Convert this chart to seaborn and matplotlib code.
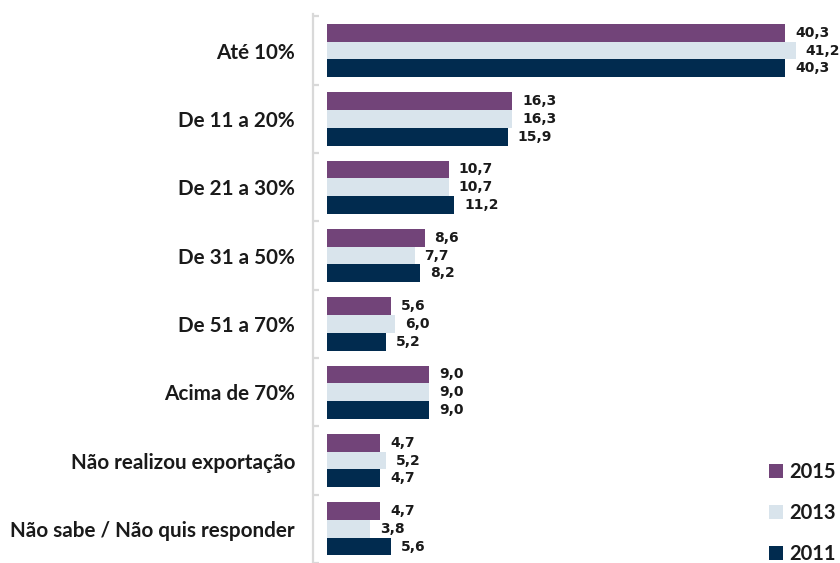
import pandas as pd
import matplotlib
matplotlib.use("Agg")
import matplotlib.pyplot as plt
import seaborn as sns

# dados do grafico
categorias = ["Até 10%", "De 11 a 20%", "De 21 a 30%", "De 31 a 50%",
              "De 51 a 70%", "Acima de 70%", "Não realizou exportação",
              "Não sabe / Não quis responder"]
anos = ["2015", "2013", "2011"]
v2015 = [40.3, 16.3, 10.7, 8.6, 5.6, 9.0, 4.7, 4.7]
v2013 = [41.2, 16.3, 10.7, 7.7, 6.0, 9.0, 5.2, 3.8]
v2011 = [40.3, 15.9, 11.2, 8.2, 5.2, 9.0, 4.7, 5.6]
cores = ["#724479", "#d9e4ec", "#012b4f"]

df = pd.DataFrame({
    "categoria": categorias * 3,
    "ano": [a for a in anos for _ in categorias],
    "valor": v2015 + v2013 + v2011,
})

sns.set_style("white")
plt.rcParams["font.family"] = ["Lato", "DejaVu Sans"]
plt.rcParams["text.color"] = "#1a1a1a"
plt.rcParams["ytick.color"] = "#1a1a1a"

fig = plt.figure(figsize=(8.4, 5.63), dpi=100)
ax = fig.add_axes([327 / 840, 0.0, 1 - 327 / 840, 548.6 / 563])

sns.barplot(data=df, y="categoria", x="valor", hue="ano", hue_order=anos,
            order=categorias, palette=cores, saturation=1, width=0.78,
            linewidth=0, orient="h", ax=ax)

# rotulos de valor com virgula decimal
for cont, vals in zip(ax.containers, [v2015, v2013, v2011]):
    ax.bar_label(cont, labels=[f"{v:.1f}".replace(".", ",") for v in vals],
                 padding=7, fontsize=10, fontweight="bold",
                 family="DejaVu Sans", clip_on=False)

ax.set_xlim(0, 45.1)
ax.set_ylim(7.41, -0.53)
ax.set_xlabel("")
ax.set_ylabel("")
ax.set_xticks([])

for s in ["top", "right", "bottom"]:
    ax.spines[s].set_visible(False)
ax.spines["left"].set_position(("outward", 10))
ax.spines["left"].set_color("#d9d9d9")
ax.spines["left"].set_linewidth(1.6)

ax.set_yticks(range(len(categorias)))
ax.set_yticklabels(categorias)
ax.set_yticks([i - 0.5 for i in range(len(categorias) + 1)], minor=True)
ax.tick_params(axis="y", which="major", left=False, length=0, pad=13)
ax.tick_params(axis="y", which="minor", left=True, length=4, width=1.6,
               direction="in", color="#d9d9d9")
for lab in ax.get_yticklabels():
    lab.set_fontsize(14.9)
    lab.set_fontweight("bold")

leg = ax.legend(loc="lower right", bbox_to_anchor=(1.005, -0.016),
                bbox_transform=fig.transFigure, frameon=False,
                prop={"size": 14.5, "weight": "bold"},
                handlelength=0.7, handleheight=0.7,
                handletextpad=0.3, labelspacing=1.05, borderaxespad=0.0)

fig.savefig("out.png", dpi=100)
